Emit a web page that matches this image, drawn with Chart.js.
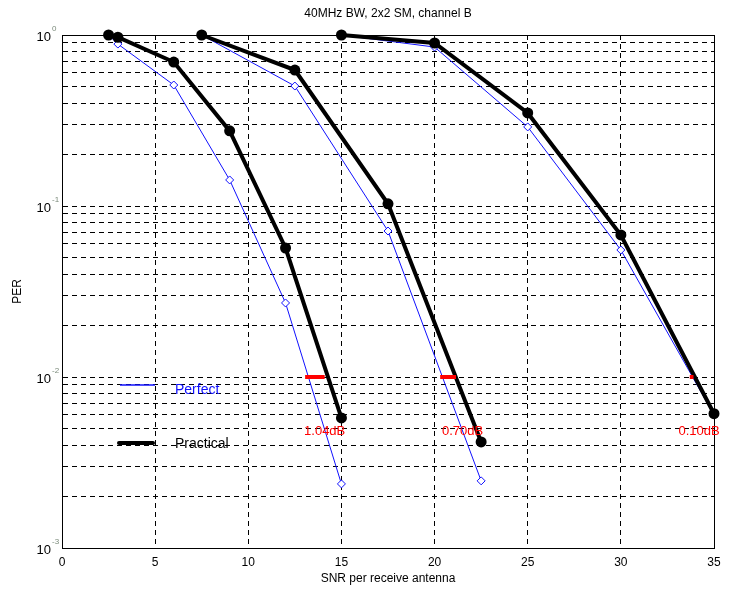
<!DOCTYPE html>
<html>
<head>
<meta charset="utf-8">
<script src="https://cdn.jsdelivr.net/npm/chart.js@4/dist/chart.umd.min.js"></script>
<style>
  body { margin: 0; background: #fff; }
  canvas { display: block; }
</style>
</head>
<body>
<canvas id="c" width="732" height="590"></canvas>
<script>
// SNR (dB) and PER
const perfectAx = [2.5, 3, 6, 9, 12, 15];
const perfectAy = [1.0, 0.885, 0.51, 0.142, 0.0271, 0.00237];
const practicalAx = [2.5, 3, 6, 9, 12, 15];
const practicalAy = [1.0, 0.97, 0.695, 0.275, 0.0568, 0.00576];

const perfectBx = [7.5, 12.5, 17.5, 22.5];
const perfectBy = [1.0, 0.503, 0.0714, 0.00247];
const practicalBx = [7.5, 12.5, 17.5, 22.5];
const practicalBy = [1.0, 0.624, 0.103, 0.00417];

const perfectCx = [15, 20, 25, 30, 35];
const perfectCy = [1.0, 0.85, 0.29, 0.0553, 0.006];
const practicalCx = [15, 20, 25, 30, 35];
const practicalCy = [1.0, 0.898, 0.35, 0.0677, 0.0061];

// loss at PER = 1e-2
const gapLevel = 0.01;
const gapStart = [13.05, 20.3, 33.7];
const gapEnd = [14.1, 21.15, 33.9];
const gapLabels = ['1.04dB', '0.70dB', '0.10dB'];
const gapLabelX = [14.1, 21.5, 34.2];
const gapLabelY = 0.00483;

const xTicks = [0, 5, 10, 15, 20, 25, 30, 35];
const yDecades = [-3, -2, -1, 0];

const BLUE = '#1010ff';

function pts(xs, ys) {
  return xs.map((x, i) => ({ x: x, y: ys[i] }));
}

function perfect(xs, ys) {
  return {
    data: pts(xs, ys),
    borderColor: BLUE,
    borderWidth: 1,
    pointStyle: 'rectRot',
    pointRadius: 4,
    pointBorderWidth: 1,
    pointBorderColor: BLUE,
    pointBackgroundColor: '#fff',
    clip: false,
    order: 2
  };
}

function practical(xs, ys) {
  return {
    data: pts(xs, ys),
    borderColor: '#000',
    borderWidth: 4,
    pointStyle: 'circle',
    pointRadius: 5.5,
    pointBorderWidth: 0,
    pointBackgroundColor: '#000',
    clip: false,
    order: 1
  };
}

const datasets = [
  perfect(perfectAx, perfectAy),
  perfect(perfectBx, perfectBy),
  perfect(perfectCx, perfectCy),
  practical(practicalAx, practicalAy),
  practical(practicalBx, practicalBy),
  practical(practicalCx, practicalCy)
];

gapStart.forEach((s, i) => {
  datasets.push({
    data: [{ x: s, y: gapLevel }, { x: gapEnd[i], y: gapLevel }],
    borderColor: '#ff0000',
    borderWidth: 4,
    pointRadius: 0,
    order: 0
  });
});

const yTickValues = [];
yDecades.forEach(d => {
  const top = d === 0 ? 1 : 9;
  for (let m = 1; m <= top; m++) {
    yTickValues.push(m * Math.pow(10, d));
  }
});

const decorations = {
  id: 'decorations',
  beforeDatasetsDraw(chart) {
    // frame under the curves
    const ctx = chart.ctx;
    const a = chart.chartArea;
    ctx.save();
    ctx.strokeStyle = '#000';
    ctx.lineWidth = 1;
    ctx.setLineDash([]);
    ctx.strokeRect(a.left + 0.5, a.top + 0.5, a.right - a.left, a.bottom - a.top);
    ctx.restore();
  },
  afterDraw(chart) {
    const ctx = chart.ctx;
    const a = chart.chartArea;
    const xs = chart.scales.x;
    const ys = chart.scales.y;
    ctx.save();
    ctx.setLineDash([]);

    ctx.fillStyle = '#000';
    ctx.textAlign = 'center';
    ctx.textBaseline = 'middle';

    // title
    ctx.font = '12px "Liberation Sans", Arial, sans-serif';
    ctx.fillText('40MHz BW, 2x2 SM, channel B', (a.left + a.right) / 2, 14);

    // x title
    ctx.fillText('SNR per receive antenna', (a.left + a.right) / 2, 579);

    // y title
    ctx.save();
    ctx.translate(18, (a.top + a.bottom) / 2);
    ctx.rotate(-Math.PI / 2);
    ctx.fillText('PER', 0, 0);
    ctx.restore();

    // y tick labels 10^k
    yDecades.forEach(d => {
      const py = ys.getPixelForValue(Math.pow(10, d));
      ctx.textAlign = 'right';
      ctx.font = '13px "Liberation Sans", Arial, sans-serif';
      ctx.fillStyle = '#000';
      ctx.fillText('10', 51, py + 2);
      ctx.textAlign = 'left';
      ctx.font = '8px "Liberation Sans", Arial, sans-serif';
      ctx.fillStyle = '#7a8a7a';
      ctx.fillText(String(d), 52, py - 6);
    });

    // legend
    ctx.strokeStyle = BLUE;
    ctx.lineWidth = 1.5;
    ctx.beginPath();
    ctx.moveTo(120, 385);
    ctx.lineTo(155, 385);
    ctx.stroke();
    ctx.strokeStyle = '#000';
    ctx.lineWidth = 4;
    ctx.lineCap = 'round';
    ctx.beginPath();
    ctx.moveTo(119, 443);
    ctx.lineTo(153, 443);
    ctx.stroke();
    ctx.font = '14px "Liberation Sans", Arial, sans-serif';
    ctx.textAlign = 'left';
    ctx.fillStyle = BLUE;
    ctx.fillText('Perfect', 175, 390);
    ctx.fillStyle = '#000';
    ctx.fillText('Practical', 175, 444);

    // dB labels
    ctx.font = '13px "Liberation Sans", Arial, sans-serif';
    ctx.textAlign = 'center';
    ctx.fillStyle = '#ff0000';
    gapLabels.forEach((t, i) => {
      ctx.fillText(t, xs.getPixelForValue(gapLabelX[i]), ys.getPixelForValue(gapLabelY));
    });

    ctx.restore();
  }
};

new Chart(document.getElementById('c'), {
  type: 'line',
  data: { datasets: datasets },
  options: {
    responsive: false,
    animation: false,
    layout: { padding: { top: 35, right: 18, left: 0, bottom: 0 } },
    elements: { line: { tension: 0 } },
    plugins: {
      legend: { display: false },
      tooltip: { enabled: false },
      title: { display: false }
    },
    scales: {
      x: {
        type: 'linear',
        min: 0,
        max: 35,
        afterBuildTicks: s => { s.ticks = xTicks.map(v => ({ value: v })); },
        afterFit: s => { s.height = 42; },
        ticks: {
          color: '#000',
          padding: 7,
          maxRotation: 0,
          font: { family: '"Liberation Sans", Arial, sans-serif', size: 12 }
        },
        grid: { color: '#000', lineWidth: 1, drawTicks: false },
        border: { color: '#000', dash: [5, 4] }
      },
      y: {
        type: 'logarithmic',
        min: 0.001,
        max: 1,
        afterBuildTicks: s => { s.ticks = yTickValues.map(v => ({ value: v })); },
        afterFit: s => { s.width = 62; },
        ticks: { display: false },
        grid: { color: '#000', lineWidth: 1, drawTicks: false },
        border: { color: '#000', dash: [5, 4] }
      }
    }
  },
  plugins: [decorations]
});
</script>
</body>
</html>
